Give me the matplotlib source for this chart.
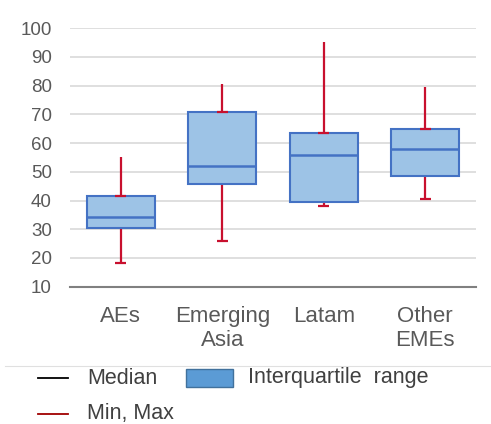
import matplotlib.pyplot as plt
from matplotlib.lines import Line2D
from matplotlib.patches import Rectangle

# --- Data ---
categories = ["AEs", "Emerging\nAsia", "Latam", "Other\nEMEs"]
q1 = [30.3, 45.7, 39.4, 48.6]
q3 = [41.6, 70.9, 63.6, 64.9]
medians = [34.4, 51.9, 55.9, 58.1]
mins = [18.4, 25.9, 38.2, 40.4]
maxs = [55.1, 80.6, 95.3, 79.7]
yticks = [10, 20, 30, 40, 50, 60, 70, 80, 90, 100]

box_fill = "#9DC3E6"
box_edge = "#4472C4"
whisk_col = "#C8102E"
text_col = "#595959"

plt.rcParams['font.family'] = ['Liberation Sans', 'DejaVu Sans']

fig = plt.figure(figsize=(4.91, 4.24), dpi=100)
ax = fig.add_axes([0.1426, 0.3238, 0.8269, 0.6095])

x = list(range(len(categories)))
w = 0.67
cap = 0.055

# whiskers (drawn under the boxes)
ax.vlines(x, mins, q1, color=whisk_col, lw=1.6, zorder=2)
ax.vlines(x, q3, maxs, color=whisk_col, lw=1.6, zorder=2)
ax.hlines(mins, [i - cap for i in x], [i + cap for i in x], color=whisk_col, lw=1.6, zorder=2)
ax.hlines(q3, [i - cap for i in x], [i + cap for i in x], color=whisk_col, lw=1.6, zorder=4)

# boxes
heights = [b - a for a, b in zip(q1, q3)]
ax.bar(x, heights, bottom=q1, width=w, color=box_fill, edgecolor=box_edge, linewidth=1.5, zorder=3)
ax.hlines(medians, [i - w / 2 for i in x], [i + w / 2 for i in x], color=box_edge, lw=1.8, zorder=4)

ax.set_xlim(-0.5, len(categories) - 0.5)
ax.set_ylim(10, 100)
ax.set_yticks(yticks)
ax.set_xticks(x)
ax.set_xticklabels(categories, fontsize=16, color=text_col, linespacing=1.2)
ax.tick_params(axis='y', length=0, pad=13, labelsize=13.5, labelcolor=text_col)
ax.tick_params(axis='x', length=0, pad=14)
ax.grid(axis='y', color='#D9D9D9', lw=1.2, zorder=0)
ax.set_axisbelow(True)
for s in ['top', 'right', 'left']:
    ax.spines[s].set_visible(False)
ax.spines['bottom'].set_color('#808080')
ax.spines['bottom'].set_linewidth(1.5)

# --- legend drawn below the chart ---
fig.add_artist(Line2D([5 / 491, 1.0], [1 - 366 / 424] * 2, color='#E0E0E0', lw=0.8))
fig.add_artist(Line2D([38 / 491, 68 / 491], [1 - 378 / 424] * 2, color='black', lw=1.3))
fig.text(87 / 491, 1 - 378 / 424, "Median", fontsize=15.5, color='#404040', va='center')
fig.add_artist(Rectangle((186 / 491, 1 - 387 / 424), 47 / 491, 18 / 424,
                         facecolor='#5B9BD5', edgecolor='#41719C', lw=1.0))
fig.text(248 / 491, 1 - 378 / 424, "Interquartile  range", fontsize=15.5, color='#404040', va='center')
fig.add_artist(Line2D([38 / 491, 68 / 491], [1 - 414 / 424] * 2, color='#A00000', lw=1.3))
fig.text(87 / 491, 1 - 414 / 424, "Min, Max", fontsize=15.5, color='#404040', va='center')

fig.savefig("out.png", dpi=100)
